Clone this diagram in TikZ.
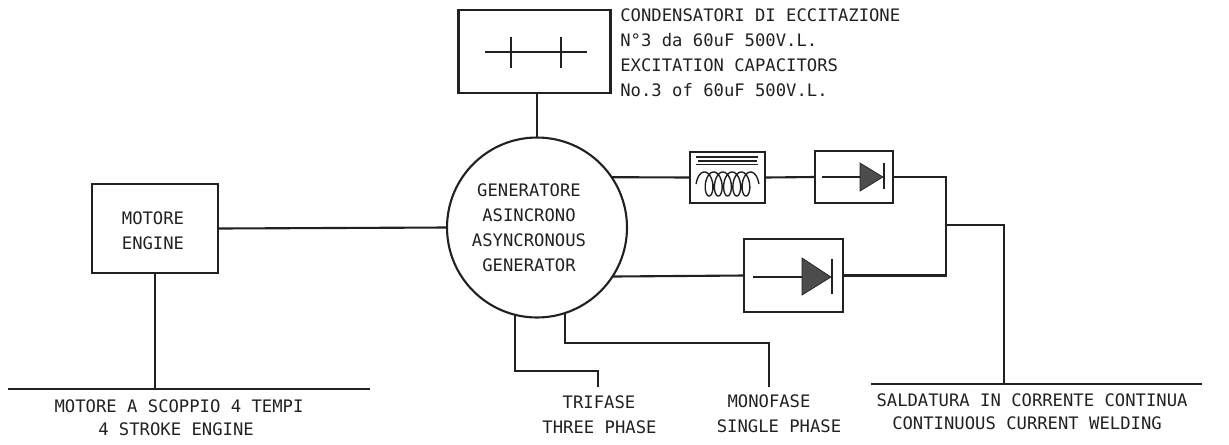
\documentclass[tikz,border=0pt]{standalone}
\usepackage{fontspec}
\setmonofont{DejaVu Sans Mono}
\definecolor{ink}{gray}{0.13}
\tikzset{
    wire/.style={line width=1.2pt, draw=ink},
    thinwire/.style={line width=0.8pt, draw=ink},
    block/.style={draw=ink, line width=1.2pt, rectangle, inner sep=0pt, outer sep=0pt},
    txt/.style={font=\fontsize{9.8}{14.2}\selectfont\ttfamily, text=ink, inner sep=0pt, align=center}
}
\begin{document}
\begin{tikzpicture}[x=0.02cm, y=-0.02cm]
    \useasboundingbox (0,0) rectangle (1229,444);

    % Blocks
    \node[block, minimum width=3.04cm, minimum height=1.66cm] (cap) at (534.5, 51.5) {};
    \node[block, circle, minimum size=3.6cm] (gen) at (537, 227.5) {};
    \node[block, minimum width=2.52cm, minimum height=1.78cm] (motor) at (155, 228.5) {};
    \node[block, minimum width=1.5cm, minimum height=1.02cm] (choke) at (727.5, 177.5) {};
    \node[block, minimum width=1.56cm, minimum height=1.04cm] (diodeA) at (854, 177) {};
    \node[block, minimum width=1.98cm, minimum height=1.46cm] (diodeB) at (793.5, 275.5) {};

    % Block texts
    \node[txt] (gentext) at (529, 228) {GENERATORE\\ASINCRONO\\ASYNCRONOUS\\GENERATOR};
    \node[txt] (motortext) at (153, 230.5) {MOTORE\\ENGINE};
    \node[txt, align=left, anchor=west] (captext) at (620, 52.5) {CONDENSATORI DI ECCITAZIONE\\N°3 da 60uF 500V.L.\\EXCITATION CAPACITORS\\No.3 of 60uF 500V.L.};

    % Capacitor symbol
    \draw[wire] (485, 52) -- (587, 52);
    \draw[wire] (511, 37) -- (511, 68);
    \draw[wire] (561, 37) -- (561, 68);

    % Choke symbol
    \draw[thinwire] (696, 157) -- (758, 157);
    \draw[thinwire] (698, 161) -- (757, 161);
    \draw[thinwire] (696, 164.5) -- (758, 164.5);
    \draw[thinwire] plot[domain=-990:990, samples=240, smooth] ({727.5+0.0256*\x-6*sin(\x)}, {184+12*cos(\x)});

    % Diode symbols
    \draw[wire] (822, 177) -- (860, 177);
    \filldraw[draw=ink, fill=black!70] (860, 163) -- (883, 177) -- (860, 191) -- cycle;
    \draw[thinwire] (884, 163) -- (884, 189);
    \draw[wire] (753, 277) -- (802, 277);
    \filldraw[draw=ink, fill=black!70] (802, 258) -- (831, 277) -- (802, 295) -- cycle;
    \draw[wire] (832, 259) -- (832, 294);

    % Free ends
    \coordinate (joinA) at (946, 177);
    \coordinate (joinB) at (946, 275.5);
    \coordinate (joinC) at (946, 225);
    \coordinate (weldtop) at (1004, 225);
    \coordinate (weldL) at (871, 384);
    \coordinate (weldR) at (1202, 384);
    \coordinate (weldfoot) at (1004, 384);
    \coordinate (engL) at (8, 389);
    \coordinate (engR) at (370, 389);
    \coordinate (triA) at (598, 371);
    \coordinate (triB) at (598, 387);
    \coordinate (monoA) at (769, 343);
    \coordinate (monoB) at (769, 387);

    % Connectors
    \draw[wire] (gen.north) -- (gen.north |- cap.south);
    \draw[wire] (motor.east) -- (gen.west);
    \draw[wire] (motor.south) -- (motor.south |- engL);
    \draw[wire] (engL) -- (engR);
    \draw[wire] (gen.34) -- (choke.west);
    \draw[wire] (choke.east) -- (diodeA.west);
    \draw[wire] (diodeA.east) -- (joinA) -- (joinB) -- (diodeB.east);
    \draw[wire] (gen.-33.4) -- (diodeB.west);
    \draw[wire] (joinC) -- (weldtop) -- (weldfoot);
    \draw[wire] (weldL) -- (weldR);
    \draw[wire] (gen.-104.8) |- (triA) -- (triB);
    \draw[wire] (gen.-72.5) |- (monoA) -- (monoB);

    % Bottom labels
    \node[txt] (engA) at (179, 406) {MOTORE A SCOPPIO 4 TEMPI};
    \node[txt] (engB) at (176, 429) {4 STROKE ENGINE};
    \node[txt] (phaseA) at (599, 402) {TRIFASE};
    \node[txt] (phaseB) at (599.5, 427) {THREE PHASE};
    \node[txt] (singleA) at (769, 401) {MONOFASE};
    \node[txt] (singleB) at (779, 426) {SINGLE PHASE};
    \node[txt] (weldA) at (1032, 400) {SALDATURA IN CORRENTE CONTINUA};
    \node[txt] (weldB) at (1027, 423) {CONTINUOUS CURRENT WELDING};
\end{tikzpicture}
\end{document}
